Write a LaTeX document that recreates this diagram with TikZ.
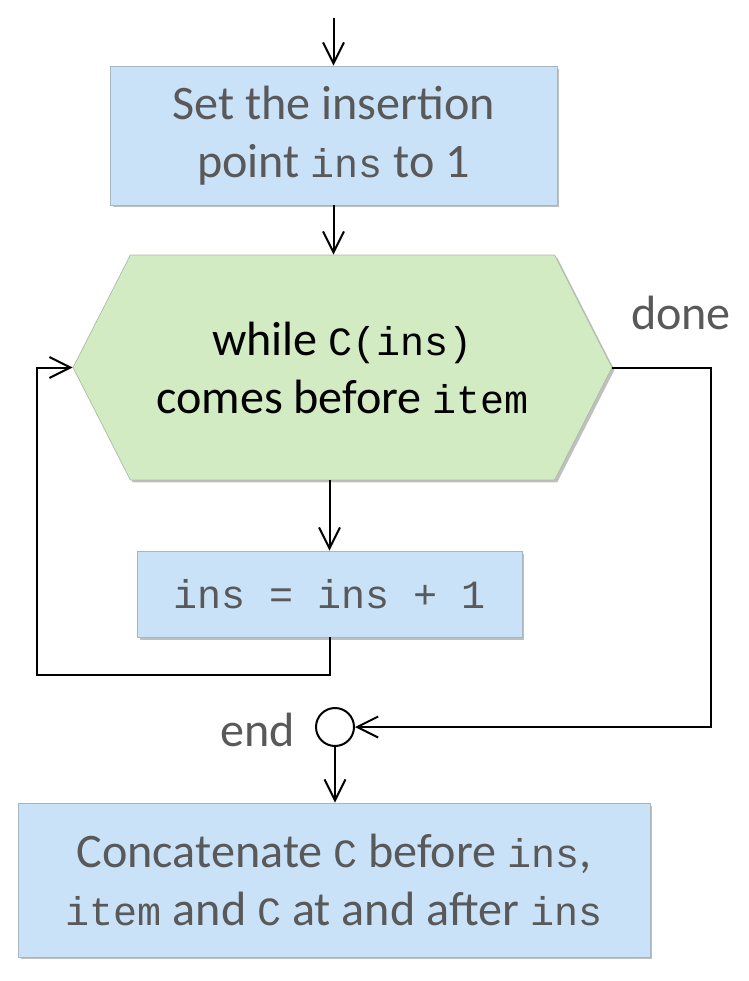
\documentclass[tikz,border=0pt]{standalone}
\usepackage{fontspec}
\setmainfont{Carlito}
\setmonofont{Liberation Mono}
\usetikzlibrary{arrows.meta}
\usetikzlibrary{shapes.symbols, shadows}
\definecolor{boxblue}{HTML}{C9E2F8}
\definecolor{loopgreen}{HTML}{D3EBC3}
\definecolor{textgray}{HTML}{595959}
\newcommand{\code}[1]{{\fontsize{22.8}{33}\selectfont\ttfamily #1}}

\begin{document}
\begin{tikzpicture}[x=0.02cm, y=-0.02cm,
				   every node/.style={font=\fontsize{27.4}{33}\selectfont, align=center, inner sep=0pt, text=textgray},
				   stepbox/.style={rectangle, draw=boxblue!55!gray, fill=boxblue, drop shadow={shadow xshift=0.05cm, shadow yshift=-0.05cm, fill=black!50}},
				   loopbox/.style={signal, signal to=east and west, signal pointer angle=126, draw=loopgreen!55!gray, fill=loopgreen, text=black, drop shadow={shadow xshift=0.05cm, shadow yshift=-0.05cm, fill=black!50}},
				   flow/.style={-{Straight Barb[length=0.42cm, width=0.42cm]}, line width=0.04cm}]
\useasboundingbox (0,0) rectangle (749,981);
\node[stepbox, minimum width=8.94cm, minimum height=2.78cm] (init) at (333.5,135.5) {Set the insertion\\point \code{ins} to 1};
\node[loopbox, minimum width=10.78cm, minimum height=4.5cm] (test) at (342.5,367.5) {while \code{C(ins)}\\comes before \code{item}};
\node[stepbox, minimum width=7.7cm, minimum height=1.72cm] (incr) at (329.5,594) {\code{ins = ins + 1}};
\node[circle, draw=black, line width=0.04cm, minimum size=0.76cm] (join) at (335,727) {};
\node[stepbox, minimum width=12.64cm, minimum height=3.08cm] (concat) at (334,880) {Concatenate \code{C} before \code{ins},\\\code{item} and \code{C} at and after \code{ins}};
\node (done) at (681,313) {done};
\node (endlbl) at (258,730) {end};
\coordinate (start) at (333.5,18);
\coordinate (back) at (37,675);
\coordinate (side) at (711,727);
\draw[flow] (start) -- (init.north);
\draw[flow] (init.south) -- (init.south |- test.north);
\draw[flow] (incr.north |- test.south) -- (incr.north);
\draw[flow] (incr.south) |- (back) |- (test.west);
\draw[flow] (test.east) -| (side) -- (join.east);
\draw[flow] (join.south) -- (join.south |- concat.north);
\end{tikzpicture}
\end{document}
